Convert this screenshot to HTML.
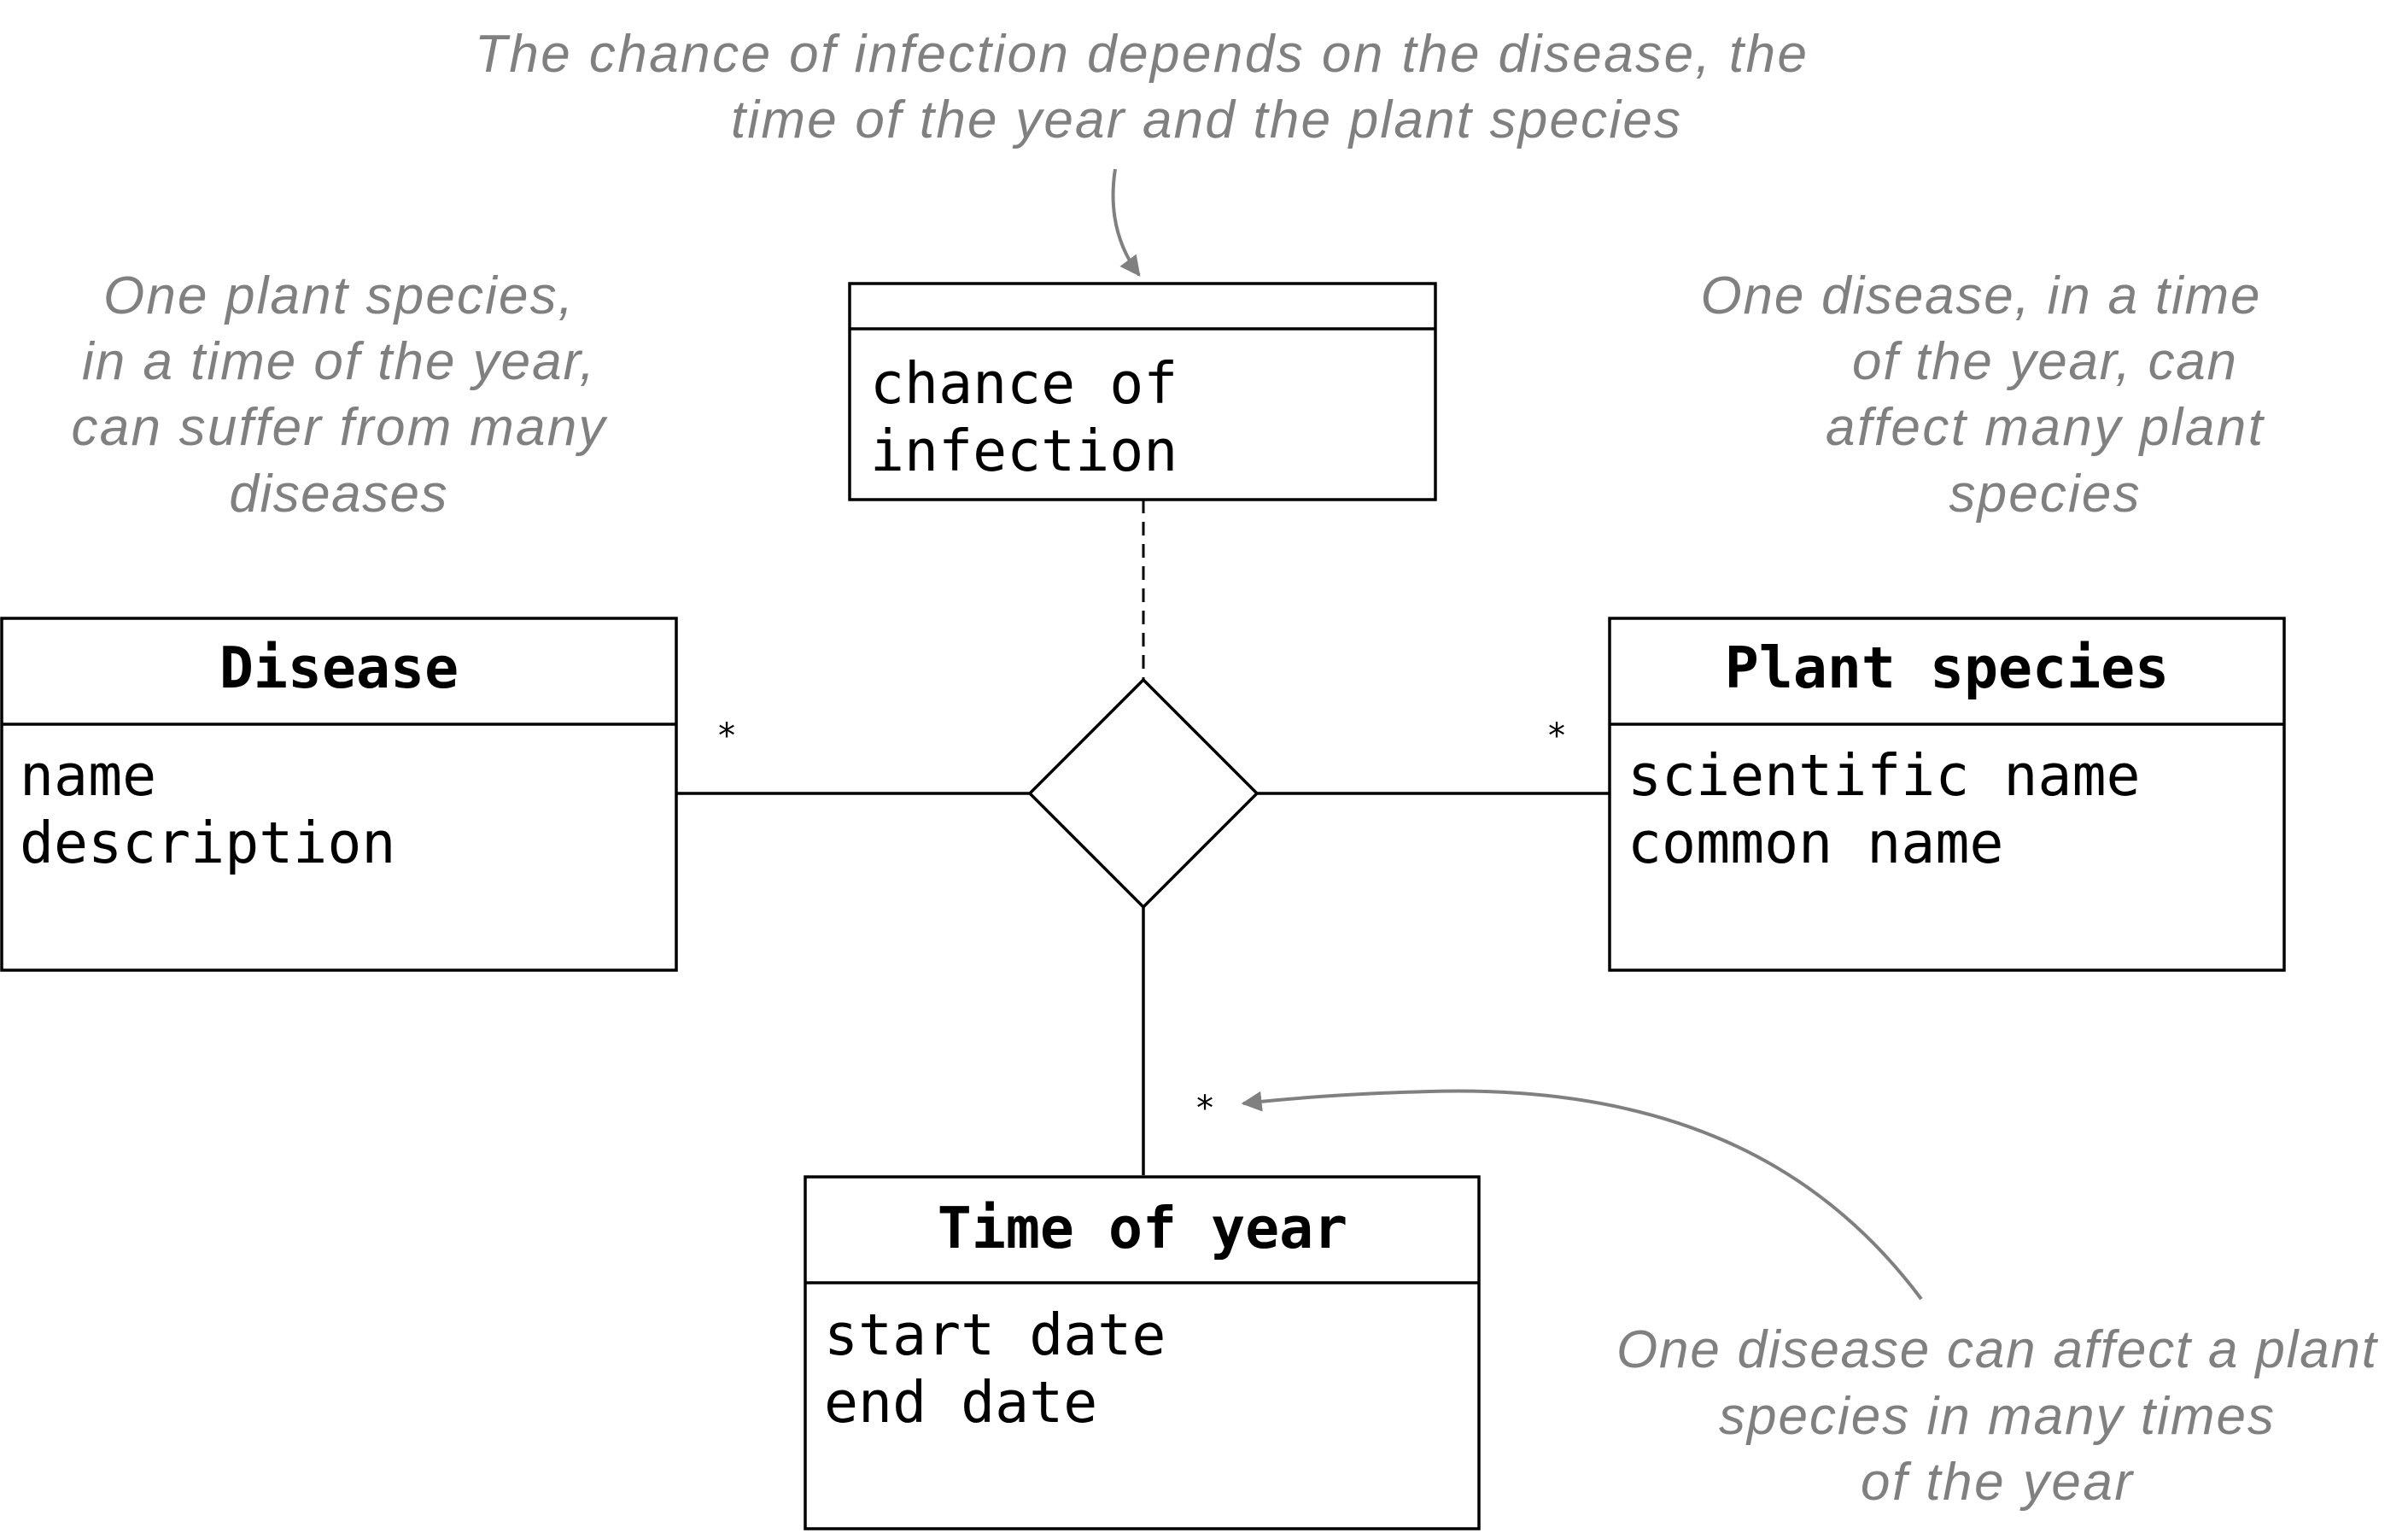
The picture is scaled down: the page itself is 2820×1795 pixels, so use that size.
<!DOCTYPE html>
<html><head><meta charset="utf-8"><style>
html,body{margin:0;padding:0;background:#fff;width:2820px;height:1795px;overflow:hidden}
.note{font-family:"Liberation Sans",sans-serif;font-style:italic;font-size:62px;fill:#808080}
.mono{font-family:"DejaVu Sans Mono","Liberation Mono",monospace;font-size:66.5px;fill:#000}
.bold{font-weight:bold}
</style></head><body>
<svg width="2820" height="1795" viewBox="0 0 2820 1795" xmlns="http://www.w3.org/2000/svg">
<defs><marker id="ah" viewBox="0 0 10 10" refX="9" refY="5" markerWidth="6" markerHeight="6" orient="auto-start-reverse"><path d="M0,0 L10,5 L0,10 z" fill="#808080"/></marker></defs>

<g>
<text class="note" x="1336" y="84" text-anchor="middle" textLength="1560">The chance of infection depends on the disease, the</text>
<text class="note" x="1412" y="161" text-anchor="middle" textLength="1112">time of the year and the plant species</text>
</g>
<path d="M1306,198 C1298,250 1310,290 1334,322" fill="none" stroke="#808080" stroke-width="4" marker-end="url(#ah)"/>

<g>
<text class="note" x="396" y="367" text-anchor="middle" textLength="550">One plant species,</text>
<text class="note" x="396" y="444" text-anchor="middle" textLength="600">in a time of the year,</text>
<text class="note" x="396" y="521" text-anchor="middle" textLength="625">can suffer from many</text>
<text class="note" x="396" y="599" text-anchor="middle" textLength="255">diseases</text>
</g>
<g>
<text class="note" x="2319" y="367" text-anchor="middle" textLength="655">One disease, in a time</text>
<text class="note" x="2394" y="444" text-anchor="middle" textLength="450">of the year, can</text>
<text class="note" x="2394" y="521" text-anchor="middle" textLength="512">affect many plant</text>
<text class="note" x="2394" y="599" text-anchor="middle" textLength="223">species</text>
</g>
<g>
<text class="note" x="2338" y="1601" text-anchor="middle" textLength="890">One disease can affect a plant</text>
<text class="note" x="2338" y="1679" text-anchor="middle" textLength="650">species in many times</text>
<text class="note" x="2338" y="1756" text-anchor="middle" textLength="318">of the year</text>
</g>
<path d="M2250,1521 C2130,1360 1950,1270 1674,1278 C1600,1280 1520,1285 1456,1292" fill="none" stroke="#808080" stroke-width="4" marker-end="url(#ah)"/>

<g fill="none" stroke="#000" stroke-width="3.5">
<rect x="995" y="332" width="686" height="253" fill="#fff"/>
<line x1="995" y1="385" x2="1681" y2="385"/>
</g>
<text class="mono" x="1019" y="472">chance of</text>
<text class="mono" x="1019" y="551">infection</text>
<line x1="1339" y1="585" x2="1339" y2="796" stroke="#000" stroke-width="3" stroke-dasharray="16,10"/>

<g stroke="#000" stroke-width="3.5" fill="none">
<line x1="792" y1="929" x2="1206" y2="929"/>
<line x1="1472" y1="929" x2="1885" y2="929"/>
<line x1="1339" y1="1062" x2="1339" y2="1376"/>
<polygon points="1339,796 1472,929 1339,1062 1206,929" fill="#fff"/>
</g>
<text class="mono" x="851" y="875" text-anchor="middle" style="font-size:40px">*</text>
<text class="mono" x="1823" y="875" text-anchor="middle" style="font-size:40px">*</text>
<text class="mono" x="1411" y="1311" text-anchor="middle" style="font-size:40px">*</text>

<g>
<rect x="2" y="724" width="790" height="412" fill="#fff" stroke="#000" stroke-width="3.5"/>
<line x1="2" y1="848" x2="792" y2="848" stroke="#000" stroke-width="3.5"/>
<text class="mono bold" x="397" y="805" text-anchor="middle">Disease</text>
<text class="mono" x="23" y="931">name</text>
<text class="mono" x="23" y="1010">description</text>
</g>
<g>
<rect x="1885" y="724" width="790" height="412" fill="#fff" stroke="#000" stroke-width="3.5"/>
<line x1="1885" y1="848" x2="2675" y2="848" stroke="#000" stroke-width="3.5"/>
<text class="mono bold" x="2280" y="805" text-anchor="middle">Plant species</text>
<text class="mono" x="1906" y="931">scientific name</text>
<text class="mono" x="1906" y="1010">common name</text>
</g>
<g>
<rect x="943" y="1378" width="789" height="412" fill="#fff" stroke="#000" stroke-width="3.5"/>
<line x1="943" y1="1502" x2="1732" y2="1502" stroke="#000" stroke-width="3.5"/>
<text class="mono bold" x="1338" y="1461" text-anchor="middle">Time of year</text>
<text class="mono" x="965" y="1586">start date</text>
<text class="mono" x="965" y="1665">end date</text>
</g>
</svg>
</body></html>
